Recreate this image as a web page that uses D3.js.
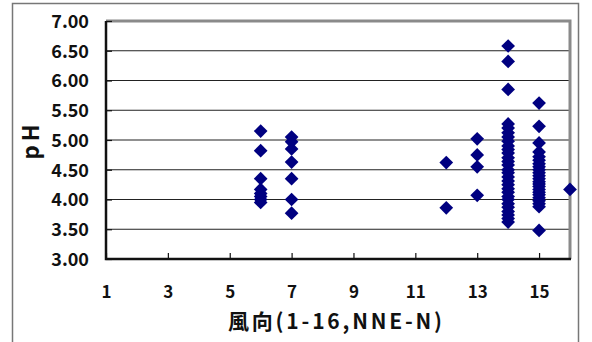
<!DOCTYPE html>
<html>
<head>
<meta charset="utf-8">
<script src="https://cdn.jsdelivr.net/npm/d3@7"></script>
<style>
  html, body { margin: 0; padding: 0; background: #fff; }
  svg { display: block; }
  text { font-family: "Noto Sans CJK JP", "Noto Sans", sans-serif; fill: #111; }
</style>
</head>
<body>
<svg id="chart" width="592" height="342"></svg>
<script>
// Wind direction (1-16, NNE..N) against rainwater pH
const xTicks = [1, 3, 5, 7, 9, 11, 13, 15];
const yTicks = [3.0, 3.5, 4.0, 4.5, 5.0, 5.5, 6.0, 6.5, 7.0];

const directions = [6, 7, 12, 13, 14, 15, 16];
const phDir6  = [5.15, 4.82, 4.35, 4.17, 4.10, 4.05, 4.00, 3.95];
const phDir7  = [5.05, 4.97, 4.85, 4.63, 4.35, 4.00, 3.77];
const phDir12 = [4.62, 3.86];
const phDir13 = [5.02, 4.75, 4.55, 4.07];
const phDir14 = [6.58, 6.32, 5.85, 5.27, 5.20, 5.12, 5.05, 4.98, 4.90, 4.84, 4.78,
                 4.70, 4.64, 4.58, 4.50, 4.45, 4.38, 4.31, 4.25, 4.18, 4.12, 4.05,
                 4.00, 3.93, 3.87, 3.80, 3.74, 3.68, 3.62];
const phDir15 = [5.62, 5.23, 4.95, 4.80, 4.72, 4.66, 4.60, 4.55, 4.50, 4.45, 4.40,
                 4.35, 4.30, 4.26, 4.22, 4.17, 4.12, 4.08, 4.03, 3.98, 3.93, 3.88, 3.48];
const phDir16 = [4.17];

const phByDirection = [phDir6, phDir7, phDir12, phDir13, phDir14, phDir15, phDir16];
const points = [];
directions.forEach((d, i) => phByDirection[i].forEach(v => points.push({ dir: d, ph: v })));

const svg = d3.select("#chart");
const plot = { left: 106, right: 570, top: 21, bottom: 259 };

const x = d3.scaleLinear().domain([1, 16]).range([plot.left, plot.right]);
const y = d3.scaleLinear().domain([3, 7]).range([plot.bottom, plot.top]);

// outer chart frame
svg.append("path")
  .attr("d", `M12.5,342 V3.5 H578.5 V342`)
  .attr("fill", "none").attr("stroke", "#777").attr("stroke-width", 1.5);

// horizontal gridlines
svg.append("g")
  .selectAll("line")
  .data(yTicks.filter(t => t > 3 && t < 7))
  .join("line")
  .attr("x1", plot.left).attr("x2", plot.right)
  .attr("y1", d => y(d)).attr("y2", d => y(d))
  .attr("stroke", "#222").attr("stroke-width", 1.2);

// plot frame: grey top/right, black axis lines left/bottom
svg.append("path")
  .attr("d", `M${plot.left},${plot.top} H${plot.right} V${plot.bottom}`)
  .attr("fill", "none").attr("stroke", "#8a8a8a").attr("stroke-width", 3);

// x axis with inward ticks
const xAxis = d3.axisBottom(x).tickValues(xTicks).tickSize(-6).tickSizeOuter(0).tickFormat(d3.format("d"));
const gx = svg.append("g").attr("transform", `translate(0,${plot.bottom})`).call(xAxis);
gx.select(".domain").remove();
gx.selectAll(".tick line").attr("stroke", "#111").attr("stroke-width", 1.2);
gx.selectAll(".tick text")
  .attr("y", 0).attr("dy", 0).attr("transform", "translate(0,39)")
  .style("font-size", "17px").style("font-weight", "700").style("fill", "#111")
  .style("font-family", "'Noto Sans CJK JP', sans-serif");

// y axis with inward ticks
const yAxis = d3.axisLeft(y).tickValues(yTicks).tickSize(-6).tickSizeOuter(0).tickFormat(d3.format(".2f"));
const gy = svg.append("g").attr("transform", `translate(${plot.left},0)`).call(yAxis);
gy.select(".domain").remove();
gy.selectAll(".tick line").attr("stroke", "#111").attr("stroke-width", 1.2);
gy.selectAll(".tick text")
  .attr("x", -17).attr("dy", "0.36em")
  .style("font-size", "18px").style("font-weight", "700").style("fill", "#111")
  .style("font-family", "'Noto Sans CJK JP', sans-serif");

// black axis lines
svg.append("path")
  .attr("d", `M${plot.left},${plot.top} V${plot.bottom} H${plot.right + 1}`)
  .attr("fill", "none").attr("stroke", "#111").attr("stroke-width", 2.5);

// data points: navy diamonds
const diamond = d3.symbol().type(d3.symbolDiamond2).size(120);
svg.append("g")
  .selectAll("path")
  .data(points)
  .join("path")
  .attr("d", diamond)
  .attr("transform", d => `translate(${x(d.dir)},${y(d.ph)})`)
  .attr("fill", "#000080");

// axis titles
svg.append("text")
  .attr("x", 228).attr("y", 329)
  .attr("textLength", 214).attr("lengthAdjust", "spacing")
  .style("font-size", "21px").style("font-weight", "700")
  .text("風向(1-16,NNE-N)");

svg.append("text")
  .attr("transform", `translate(39,${(plot.top + plot.bottom) / 2}) rotate(-90)`)
  .attr("text-anchor", "middle")
  .style("font-size", "22px").style("font-weight", "700").style("letter-spacing", "4px")
  .text("pH");
</script>
</body>
</html>
